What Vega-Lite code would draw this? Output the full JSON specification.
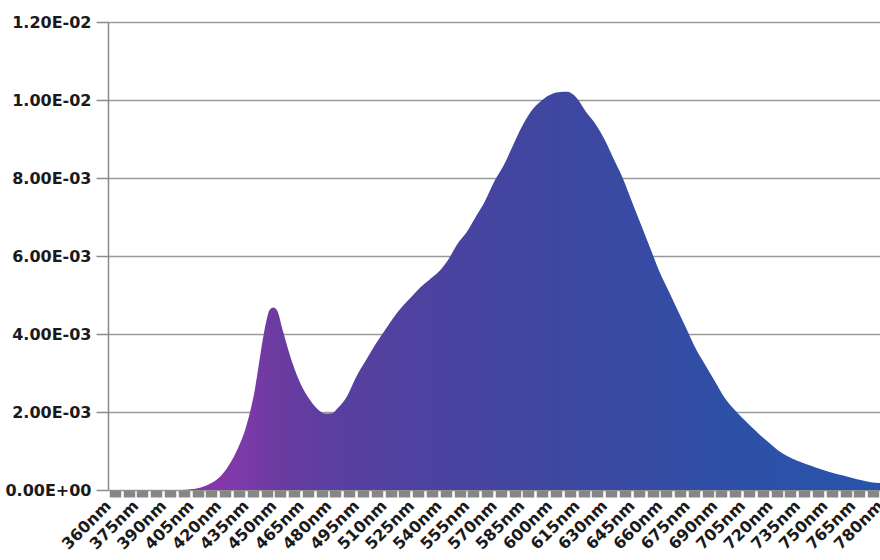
{
  "$schema": "https://vega.github.io/schema/vega-lite/v6.json",
  "autosize": "none",
  "width": 772,
  "height": 468,
  "padding": {"left": 108, "top": 22, "right": 0, "bottom": 70},
  "background": "white",
  "config": {"view": {"stroke": null}},
  "data": {"values": [
    {"nm": 360, "v": 0}, {"nm": 365, "v": 0}, {"nm": 370, "v": 0}, {"nm": 375, "v": 0},
    {"nm": 380, "v": 0}, {"nm": 385, "v": 0}, {"nm": 390, "v": 0}, {"nm": 395, "v": 0},
    {"nm": 400, "v": 0}, {"nm": 405, "v": 0.00002}, {"nm": 410, "v": 0.00006}, {"nm": 415, "v": 0.00015},
    {"nm": 420, "v": 0.0003}, {"nm": 425, "v": 0.00058}, {"nm": 430, "v": 0.001}, {"nm": 435, "v": 0.0016},
    {"nm": 440, "v": 0.0026}, {"nm": 443, "v": 0.0035}, {"nm": 446, "v": 0.0043}, {"nm": 448, "v": 0.00462},
    {"nm": 450, "v": 0.00468}, {"nm": 452, "v": 0.0046}, {"nm": 455, "v": 0.0041}, {"nm": 460, "v": 0.0033},
    {"nm": 465, "v": 0.0027}, {"nm": 470, "v": 0.0023}, {"nm": 475, "v": 0.00203}, {"nm": 478, "v": 0.00196},
    {"nm": 482, "v": 0.00197}, {"nm": 485, "v": 0.0021}, {"nm": 490, "v": 0.0024}, {"nm": 495, "v": 0.0029},
    {"nm": 500, "v": 0.0033}, {"nm": 505, "v": 0.0037}, {"nm": 510, "v": 0.00405}, {"nm": 515, "v": 0.0044},
    {"nm": 520, "v": 0.0047}, {"nm": 525, "v": 0.00495}, {"nm": 530, "v": 0.0052}, {"nm": 535, "v": 0.0054},
    {"nm": 540, "v": 0.0056}, {"nm": 545, "v": 0.0059}, {"nm": 550, "v": 0.0063}, {"nm": 555, "v": 0.0066},
    {"nm": 560, "v": 0.007}, {"nm": 565, "v": 0.0074}, {"nm": 570, "v": 0.0079}, {"nm": 575, "v": 0.0083},
    {"nm": 580, "v": 0.0088}, {"nm": 585, "v": 0.0093}, {"nm": 590, "v": 0.0097}, {"nm": 595, "v": 0.00995},
    {"nm": 600, "v": 0.01012}, {"nm": 605, "v": 0.0102}, {"nm": 610, "v": 0.01021}, {"nm": 615, "v": 0.01005},
    {"nm": 620, "v": 0.0097}, {"nm": 625, "v": 0.0094}, {"nm": 630, "v": 0.009},
    {"nm": 635, "v": 0.0085}, {"nm": 640, "v": 0.008}, {"nm": 645, "v": 0.0074}, {"nm": 650, "v": 0.0068},
    {"nm": 655, "v": 0.0062}, {"nm": 660, "v": 0.0056}, {"nm": 665, "v": 0.0051}, {"nm": 670, "v": 0.0046},
    {"nm": 675, "v": 0.0041}, {"nm": 680, "v": 0.0036}, {"nm": 685, "v": 0.0032}, {"nm": 690, "v": 0.0028},
    {"nm": 695, "v": 0.0024}, {"nm": 700, "v": 0.0021}, {"nm": 705, "v": 0.00185}, {"nm": 710, "v": 0.00162},
    {"nm": 715, "v": 0.0014}, {"nm": 720, "v": 0.0012}, {"nm": 725, "v": 0.001}, {"nm": 730, "v": 0.00086},
    {"nm": 735, "v": 0.00075}, {"nm": 740, "v": 0.00066}, {"nm": 745, "v": 0.00058}, {"nm": 750, "v": 0.0005},
    {"nm": 755, "v": 0.00043}, {"nm": 760, "v": 0.00037}, {"nm": 765, "v": 0.00031}, {"nm": 770, "v": 0.00025},
    {"nm": 775, "v": 0.0002}, {"nm": 780, "v": 0.00018}
  ]},
  "mark": {
    "type": "area",
    "interpolate": "monotone",
    "color": {
      "gradient": "linear", "x1": 0, "x2": 1, "y1": 0, "y2": 0,
      "stops": [
        {"offset": 0.1, "color": "#8c34a8"},
        {"offset": 0.18, "color": "#7b3aa8"},
        {"offset": 0.22, "color": "#6b3ba0"},
        {"offset": 0.29, "color": "#5a3f9f"},
        {"offset": 0.44, "color": "#4a43a0"},
        {"offset": 0.57, "color": "#3f47a0"},
        {"offset": 0.7, "color": "#374ba4"},
        {"offset": 0.81, "color": "#2e50a7"},
        {"offset": 1, "color": "#2854ab"}
      ]
    }
  },
  "encoding": {
    "x": {
      "field": "nm", "type": "quantitative",
      "scale": {"domain": [360, 780], "nice": false, "zero": false},
      "axis": {
        "title": null,
        "values": [360, 363.75, 367.5, 371.25, 375, 378.75, 382.5, 386.25, 390, 393.75, 397.5, 401.25, 405, 408.75, 412.5, 416.25, 420, 423.75, 427.5, 431.25, 435, 438.75, 442.5, 446.25, 450, 453.75, 457.5, 461.25, 465, 468.75, 472.5, 476.25, 480, 483.75, 487.5, 491.25, 495, 498.75, 502.5, 506.25, 510, 513.75, 517.5, 521.25, 525, 528.75, 532.5, 536.25, 540, 543.75, 547.5, 551.25, 555, 558.75, 562.5, 566.25, 570, 573.75, 577.5, 581.25, 585, 588.75, 592.5, 596.25, 600, 603.75, 607.5, 611.25, 615, 618.75, 622.5, 626.25, 630, 633.75, 637.5, 641.25, 645, 648.75, 652.5, 656.25, 660, 663.75, 667.5, 671.25, 675, 678.75, 682.5, 686.25, 690, 693.75, 697.5, 701.25, 705, 708.75, 712.5, 716.25, 720, 723.75, 727.5, 731.25, 735, 738.75, 742.5, 746.25, 750, 753.75, 757.5, 761.25, 765, 768.75, 772.5, 776.25, 780],
        "labelExpr": "datum.value % 15 == 0 ? datum.value + 'nm' : ''",
        "labelAngle": -45,
        "labelAlign": "right",
        "labelBaseline": "middle",
        "labelPadding": 6,
        "labelFont": "DejaVu Sans",
        "labelFontWeight": "bold",
        "labelFontSize": 16,
        "labelColor": "#1a1a1a",
        "labelOverlap": false,
        "labelBound": false,
        "labelFlush": false,
        "domain": false,
        "grid": false,
        "tickSize": 7,
        "tickWidth": 11.5,
        "tickColor": {"condition": {"test": "datum.value % 7.5 != 0", "value": "#868686"}, "value": "transparent"}
      }
    },
    "y": {
      "field": "v", "type": "quantitative",
      "scale": {"domain": [0, 0.012], "nice": false},
      "axis": {
        "title": null,
        "values": [0, 0.002, 0.004, 0.006, 0.008, 0.01, 0.012],
        "labelExpr": "replace(replace(upper(format(datum.value, '.2e')), 'E-', 'E-0'), 'E+', 'E+0')",
        "labelFont": "DejaVu Sans",
        "labelFontWeight": "bold",
        "labelFontSize": 16,
        "labelColor": "#1a1a1a",
        "labelPadding": 5,
        "tickSize": 12,
        "tickColor": "#8a8a8a",
        "tickWidth": 1.5,
        "domainColor": "#8a8a8a",
        "domainWidth": 1.5,
        "grid": true,
        "gridColor": "#9a9a9a",
        "gridWidth": 1.5
      }
    }
  }
}
